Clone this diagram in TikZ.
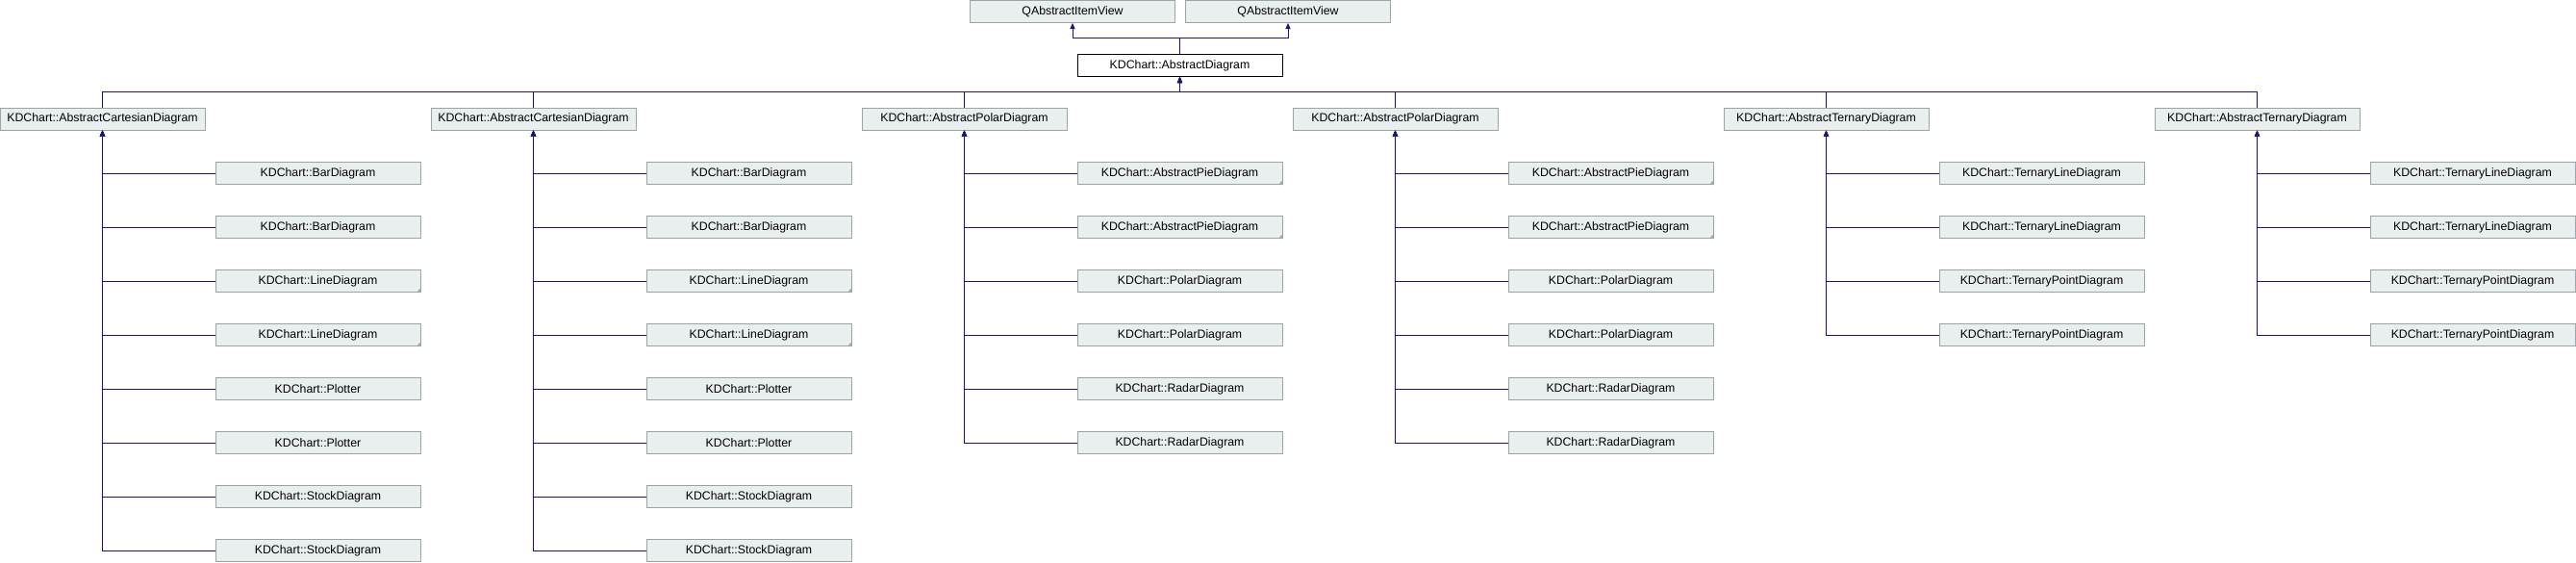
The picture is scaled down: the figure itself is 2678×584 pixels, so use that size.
\documentclass[tikz,border=0pt]{standalone}
\usepackage{fontspec}
\setmainfont{Liberation Sans}
\usetikzlibrary{arrows.meta}
\definecolor{edgeblue}{RGB}{25,25,112}
\definecolor{boxfill}{RGB}{234,238,238}
\definecolor{boxline}{RGB}{150,165,165}
\definecolor{cornergray}{RGB}{160,170,170}
\newcommand\kdcol[3]{%
  \node[cls] (c#1) at ({448*#1+106.5},123.5) {KDChart::#2};
  \draw[inh] (c#1.north) -- ++(0,-16) -| (ad.south);
  \foreach \n/\f [count=\k from 0] in {#3} {
    \node[cls] (d#1-\k) at ({448*#1+330.5},{180+56*\k}) {KDChart::\n};
    \draw[inh] (d#1-\k.west) -| (c#1.south);
    \ifnum\f=1 \fill[cornergray] (d#1-\k.south east) -- ++(-5pt,0) -- ++(5pt,5pt) -- cycle; \fi
  }%
}
\begin{document}
\begin{tikzpicture}[x=1pt,y=-1pt,
  cls/.style={draw=boxline, fill=boxfill, line width=1pt, minimum width=213pt, minimum height=23pt, inner sep=0pt, font=\fontsize{12.3pt}{14pt}\selectfont},
  cur/.style={cls, draw=black, fill=white},
  inh/.style={draw=edgeblue, line width=1pt, -{Triangle[length=6pt,width=5pt]}},
]
\useasboundingbox (0,0) rectangle (2678,584);
\node[cls] (q1) at (1115,12) {QAbstractItemView};
\node[cls] (q2) at (1339,12) {QAbstractItemView};
\node[cur] (ad) at (1226.5,68) {KDChart::AbstractDiagram};
\draw[inh] (ad.north) -- ++(0,-16.5) -| (q1.south);
\draw[inh] (ad.north) -- ++(0,-16.5) -| (q2.south);
\kdcol{0}{AbstractCartesianDiagram}{BarDiagram/0,BarDiagram/0,LineDiagram/1,LineDiagram/1,Plotter/0,Plotter/0,StockDiagram/0,StockDiagram/0}
\kdcol{1}{AbstractCartesianDiagram}{BarDiagram/0,BarDiagram/0,LineDiagram/1,LineDiagram/1,Plotter/0,Plotter/0,StockDiagram/0,StockDiagram/0}
\kdcol{2}{AbstractPolarDiagram}{AbstractPieDiagram/1,AbstractPieDiagram/1,PolarDiagram/0,PolarDiagram/0,RadarDiagram/0,RadarDiagram/0}
\kdcol{3}{AbstractPolarDiagram}{AbstractPieDiagram/1,AbstractPieDiagram/1,PolarDiagram/0,PolarDiagram/0,RadarDiagram/0,RadarDiagram/0}
\kdcol{4}{AbstractTernaryDiagram}{TernaryLineDiagram/0,TernaryLineDiagram/0,TernaryPointDiagram/0,TernaryPointDiagram/0}
\kdcol{5}{AbstractTernaryDiagram}{TernaryLineDiagram/0,TernaryLineDiagram/0,TernaryPointDiagram/0,TernaryPointDiagram/0}
\end{tikzpicture}
\end{document}
